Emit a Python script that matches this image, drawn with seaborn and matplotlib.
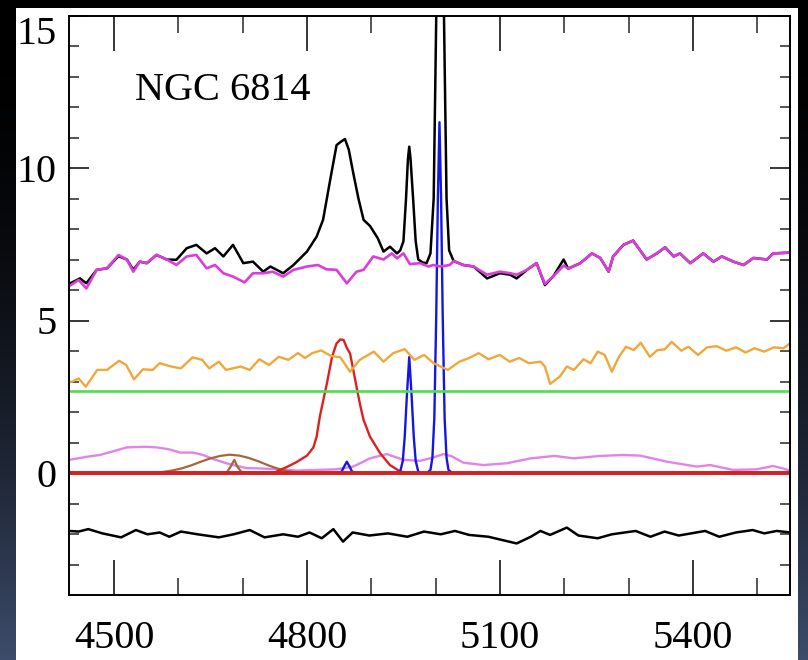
import numpy as np
import matplotlib
matplotlib.use("Agg")
import matplotlib.pyplot as plt
from matplotlib.patches import Rectangle
from matplotlib.ticker import MultipleLocator
import seaborn as sns

# ---------------- data ----------------
wl_obs = [4430, 4432, 4447, 4457, 4473, 4489, 4507, 4520, 4530, 4540, 4551, 4566, 4582, 4597,
          4613, 4628, 4644, 4657, 4670, 4685, 4701, 4716, 4732, 4743, 4763, 4779, 4800, 4815,
          4825, 4836, 4846, 4852, 4859, 4865, 4872, 4880, 4888, 4898, 4910, 4919, 4929, 4940,
          4945, 4950, 4954, 4957, 4959, 4961, 4965, 4969, 4973, 4980, 4986, 4992, 4997, 5001,
          5004, 5007, 5010, 5013, 5017, 5021, 5028, 5043, 5059, 5080, 5100, 5116, 5126, 5142,
          5157, 5170, 5183, 5199, 5206, 5225, 5243, 5256, 5269, 5276, 5292, 5307, 5318, 5328,
          5344, 5357, 5370, 5380, 5396, 5416, 5432, 5445, 5463, 5479, 5494, 5515, 5525, 5546, 5552]
f_obs = [6.15, 6.22, 6.38, 6.22, 6.66, 6.71, 7.11, 7.0, 6.66, 6.93, 6.88, 7.15, 7.0, 6.99,
         7.37, 7.48, 7.2, 7.37, 7.1, 7.48, 6.88, 6.93, 6.6, 6.77, 6.55, 6.82, 7.26, 7.75,
         8.3, 9.6, 10.75, 10.85, 10.95, 10.6, 9.83, 9.0, 8.3, 8.1, 7.7, 7.26, 7.42, 7.2,
         7.3, 7.6, 9.0, 10.3, 10.7, 10.3, 9.0, 7.6, 7.0, 6.9, 6.88, 7.2, 9.0, 15.0,
         19.0, 20.5, 19.0, 15.0, 9.0, 7.3, 6.95, 6.82, 6.77, 6.38, 6.55, 6.5, 6.38, 6.66,
         6.88, 6.16, 6.45, 7.0, 6.7, 6.88, 7.2, 7.05, 6.6, 7.1, 7.48, 7.62, 7.3, 7.0,
         7.2, 7.4, 7.1, 7.2, 6.88, 7.2, 6.93, 7.1, 6.93, 6.82, 7.05, 7.0, 7.2, 7.22, 7.25]

wl_host = [4430, 4445, 4457, 4473, 4489, 4507, 4520, 4530, 4540, 4551, 4566, 4582, 4597, 4613,
           4628, 4644, 4657, 4670, 4685, 4703, 4716, 4732, 4747, 4763, 4779, 4800, 4817, 4830,
           4846, 4862, 4877, 4888, 4903, 4919, 4932, 4940, 4950, 4960, 4976, 4989, 4996, 5007,
           5022, 5028, 5043, 5059, 5080, 5100, 5116, 5126, 5142, 5157, 5170, 5183, 5199, 5206,
           5225, 5243, 5256, 5269, 5276, 5292, 5307, 5318, 5328, 5344, 5357, 5370, 5380, 5396,
           5416, 5432, 5445, 5463, 5479, 5494, 5515, 5525, 5546, 5552]
f_host = [6.12, 6.33, 6.05, 6.66, 6.71, 7.15, 7.0, 6.6, 6.93, 6.88, 7.15, 7.0, 6.82, 7.1,
          7.15, 6.71, 6.82, 6.55, 6.44, 6.25, 6.55, 6.55, 6.6, 6.44, 6.66, 6.77, 6.82, 6.68,
          6.66, 6.22, 6.6, 6.66, 7.1, 7.0, 7.2, 7.04, 7.2, 6.85, 6.88, 6.77, 6.82, 6.77,
          6.82, 6.95, 6.82, 6.77, 6.5, 6.6, 6.55, 6.5, 6.66, 6.88, 6.2, 6.45, 6.8, 6.7,
          6.88, 7.2, 7.05, 6.6, 7.1, 7.48, 7.62, 7.3, 7.0, 7.2, 7.4, 7.1, 7.2, 6.88,
          7.2, 6.93, 7.1, 6.93, 6.82, 7.05, 7.0, 7.2, 7.22, 7.25]

wl_stars = [4430, 4434, 4445, 4456, 4474, 4489, 4508, 4519, 4531, 4545, 4560, 4571, 4589, 4604,
            4622, 4637, 4648, 4663, 4674, 4697, 4711, 4726, 4741, 4756, 4771, 4786, 4797, 4808,
            4822, 4837, 4852, 4867, 4882, 4904, 4919, 4934, 4952, 4967, 4982, 4997, 5019, 5037,
            5052, 5067, 5082, 5100, 5115, 5130, 5145, 5163, 5170, 5178, 5193, 5204, 5215, 5230,
            5241, 5252, 5263, 5274, 5285, 5296, 5308, 5319, 5333, 5345, 5356, 5367, 5382, 5393,
            5408, 5422, 5437, 5452, 5467, 5482, 5496, 5511, 5526, 5541, 5552]
f_stars = [3.0, 2.99, 3.10, 2.83, 3.38, 3.38, 3.68, 3.54, 3.07, 3.40, 3.38, 3.6, 3.49, 3.43,
           3.79, 3.71, 3.43, 3.65, 3.38, 3.49, 3.38, 3.73, 3.54, 3.81, 3.71, 3.93, 3.77, 3.93,
           4.02, 3.84, 3.79, 3.32, 3.71, 3.98, 3.65, 3.93, 4.06, 3.71, 3.87, 3.6, 3.38, 3.65,
           3.77, 3.93, 3.73, 3.87, 3.65, 3.77, 3.6, 3.65, 3.49, 2.92, 3.16, 3.49, 3.38, 3.73,
           3.6, 3.98, 3.87, 3.32, 3.81, 4.14, 4.03, 4.27, 3.81, 4.03, 4.05, 4.3, 4.01, 4.14,
           3.87, 4.12, 4.16, 4.01, 4.12, 3.95, 4.09, 3.98, 4.12, 4.09, 4.27]

wl_power = [4430, 5552]
f_power = [2.69, 2.69]

wl_feii = [4430, 4460, 4478, 4500, 4520, 4548, 4566, 4585, 4603, 4623, 4640, 4654, 4670, 4685,
           4706, 4726, 4756, 4785, 4815, 4845, 4872, 4898, 4924, 4950, 4976, 4995, 5012, 5025,
           5043, 5074, 5111, 5148, 5185, 5215, 5256, 5290, 5318, 5360, 5406, 5427, 5463, 5499,
           5525, 5552]
f_feii = [0.43, 0.54, 0.59, 0.72, 0.84, 0.86, 0.84, 0.78, 0.67, 0.67, 0.58, 0.46, 0.35, 0.26,
          0.16, 0.15, 0.12, 0.08, 0.10, 0.12, 0.21, 0.48, 0.62, 0.43, 0.40, 0.50, 0.62, 0.55,
          0.34, 0.26, 0.32, 0.48, 0.56, 0.48, 0.56, 0.59, 0.57, 0.37, 0.21, 0.26, 0.10, 0.12,
          0.23, 0.08]

wl_heii_broad = [4430, 4560, 4575, 4590, 4605, 4620, 4635, 4650, 4665, 4680, 4695, 4710,
                 4725, 4740, 4755, 4770, 4785, 4800, 5552]
f_heii_broad = [0, 0, 0.03, 0.08, 0.15, 0.25, 0.37, 0.48, 0.56, 0.6, 0.57, 0.49,
                0.38, 0.25, 0.14, 0.06, 0.02, 0, 0]
wl_heii_narrow = [4670, 4676, 4681, 4687, 4692, 4698, 4704]
f_heii_narrow = [0, 0.04, 0.2, 0.43, 0.2, 0.04, 0]

wl_hb_broad = [4430, 4750, 4753, 4769, 4784, 4800, 4810, 4815, 4820, 4826, 4831, 4839, 4846,
               4852, 4857, 4862, 4867, 4872, 4878, 4883, 4888, 4898, 4914, 4929, 4945, 4955, 5552]
f_hb_broad = [0, 0, 0.05, 0.2, 0.36, 0.57, 0.84, 1.19, 1.85, 2.45, 2.94, 3.81, 4.25,
              4.38, 4.36, 4.1, 3.92, 3.38, 2.72, 2.2, 1.74, 1.19, 0.64, 0.26, 0.05, 0, 0]

wl_narrow = [4430, 4848, 4854, 4858, 4862, 4866, 4870, 4876, 4940, 4945, 4949, 4952, 4955.5,
             4959, 4962.5, 4966, 4969, 4973, 4978, 4986, 4992, 4995, 4998, 5001, 5003.5, 5006,
             5008.5, 5011, 5014, 5017, 5020, 5026, 5552]
f_narrow = [0, 0, 0.05, 0.22, 0.37, 0.22, 0.05, 0, 0, 0.05, 0.4, 1.2, 2.6,
            3.8, 2.6, 1.2, 0.4, 0.05, 0, 0, 0.1, 0.5, 1.8, 5.2, 9.0, 11.5,
            9.0, 5.2, 1.8, 0.5, 0.1, 0, 0]

wl_zero = [4430, 5552]
f_zero = [0, 0]

wl_res = [4430, 4445, 4460, 4482, 4511, 4534, 4552, 4571, 4586, 4604, 4630, 4663, 4686, 4711,
          4734, 4763, 4786, 4804, 4823, 4841, 4856, 4871, 4897, 4926, 4956, 4982, 5008, 5030,
          5052, 5082, 5104, 5126, 5148, 5163, 5178, 5204, 5222, 5252, 5274, 5311, 5334, 5356,
          5378, 5419, 5441, 5467, 5493, 5511, 5530, 5552]
f_res = [-1.9, -1.92, -1.84, -1.98, -2.11, -1.87, -2.01, -1.95, -2.09, -1.92, -2.01, -2.11, -2.01, -1.87,
         -2.11, -2.01, -2.09, -1.95, -2.14, -1.84, -2.25, -1.95, -2.05, -1.98, -2.09, -1.92, -2.01, -1.9,
         -2.03, -2.09, -2.2, -2.31, -2.09, -1.9, -2.03, -1.79, -2.05, -2.14, -2.01, -1.9, -2.09, -1.92,
         -2.05, -1.9, -2.09, -1.95, -1.87, -1.98, -1.9, -1.95]

x_major = [4500, 4800, 5100, 5400]
y_major = [0, 5, 10, 15]
label_text = "NGC 6814"

# ---------------- figure ----------------
sns.set_style("ticks")
plt.rcParams['font.family'] = ['Liberation Serif', 'DejaVu Serif']

W, H = 808, 660
fig = plt.figure(figsize=(W / 100, H / 100), dpi=100)
fig.patch.set_facecolor("black")

# dark gradient surround + white page
bg = fig.add_axes([0, 0, 1, 1], zorder=-10)
t = np.linspace(0, 1, 256) ** 2
top = np.array([0.0, 0.0, 0.0])
bot = np.array([0.24, 0.30, 0.42])
grad = (top[None, :] * (1 - t[:, None]) + bot[None, :] * t[:, None])[:, None, :]
bg.imshow(grad, aspect="auto", extent=[0, 1, 0, 1], origin="upper")
bg.add_patch(Rectangle((16 / W, 0), (798 - 16) / W, (H - 8) / H,
                       transform=bg.transAxes, facecolor="white", edgecolor="none"))
bg.set_xlim(0, 1)
bg.set_ylim(0, 1)
bg.axis("off")

ax = fig.add_axes([69 / W, (H - 595) / H, (790 - 69) / W, (595 - 15.5) / H], zorder=1)
ax.set_facecolor("white")

def draw(x, y, color, lw):
    sns.lineplot(x=x, y=y, ax=ax, color=color, linewidth=lw, estimator=None,
                 sort=False, legend=False, solid_joinstyle="round", solid_capstyle="round")

draw(wl_feii, f_feii, "#e283ea", 1.7)
draw(wl_heii_broad, f_heii_broad, "#a5663e", 1.6)
draw(wl_heii_narrow, f_heii_narrow, "#a5663e", 1.6)
draw(wl_hb_broad, f_hb_broad, "#dd2020", 1.7)
draw(wl_narrow, f_narrow, "#1515e6", 1.7)
draw(wl_power, f_power, "#4ddf4d", 1.9)
draw(wl_stars, f_stars, "#f0a83a", 1.7)
draw(wl_obs, f_obs, "black", 1.8)
draw(wl_host, f_host, "#dc3cdc", 1.9)
draw(wl_zero, f_zero, "#d42020", 2.8)
draw(wl_res, f_res, "black", 1.8)

ax.set_xlim(4430, 5551)
ax.set_ylim(-4, 15)
ax.set_xticks(x_major)
ax.set_xticklabels([str(v) for v in x_major])
ax.set_yticks(y_major)
ax.set_yticklabels([str(v) for v in y_major])
ax.xaxis.set_minor_locator(MultipleLocator(100))
ax.yaxis.set_minor_locator(MultipleLocator(1))
ax.set_xlabel("")
ax.set_ylabel("")

ax.tick_params(axis="x", which="major", direction="in", length=25, width=1.1,
               top=True, bottom=True, pad=18, labelsize=29, colors="black")
ax.tick_params(axis="x", which="minor", direction="in", length=12.5, width=1.1,
               top=True, bottom=True)
ax.tick_params(axis="y", which="major", direction="in", length=14.5, width=1.1,
               left=True, right=True, pad=9, labelsize=29, colors="black")
ax.tick_params(axis="y", which="minor", direction="in", length=7.5, width=1.1,
               left=True, right=True)
for s in ax.spines.values():
    s.set_linewidth(1.4)
    s.set_color("black")
    s.set_visible(True)

ax.get_yticklabels()[-1].set_verticalalignment("top")

ax.text(4533, 12.23, label_text, fontsize=29, color="black", va="baseline", ha="left")

fig.savefig("out.png", dpi=100, facecolor=fig.get_facecolor())
